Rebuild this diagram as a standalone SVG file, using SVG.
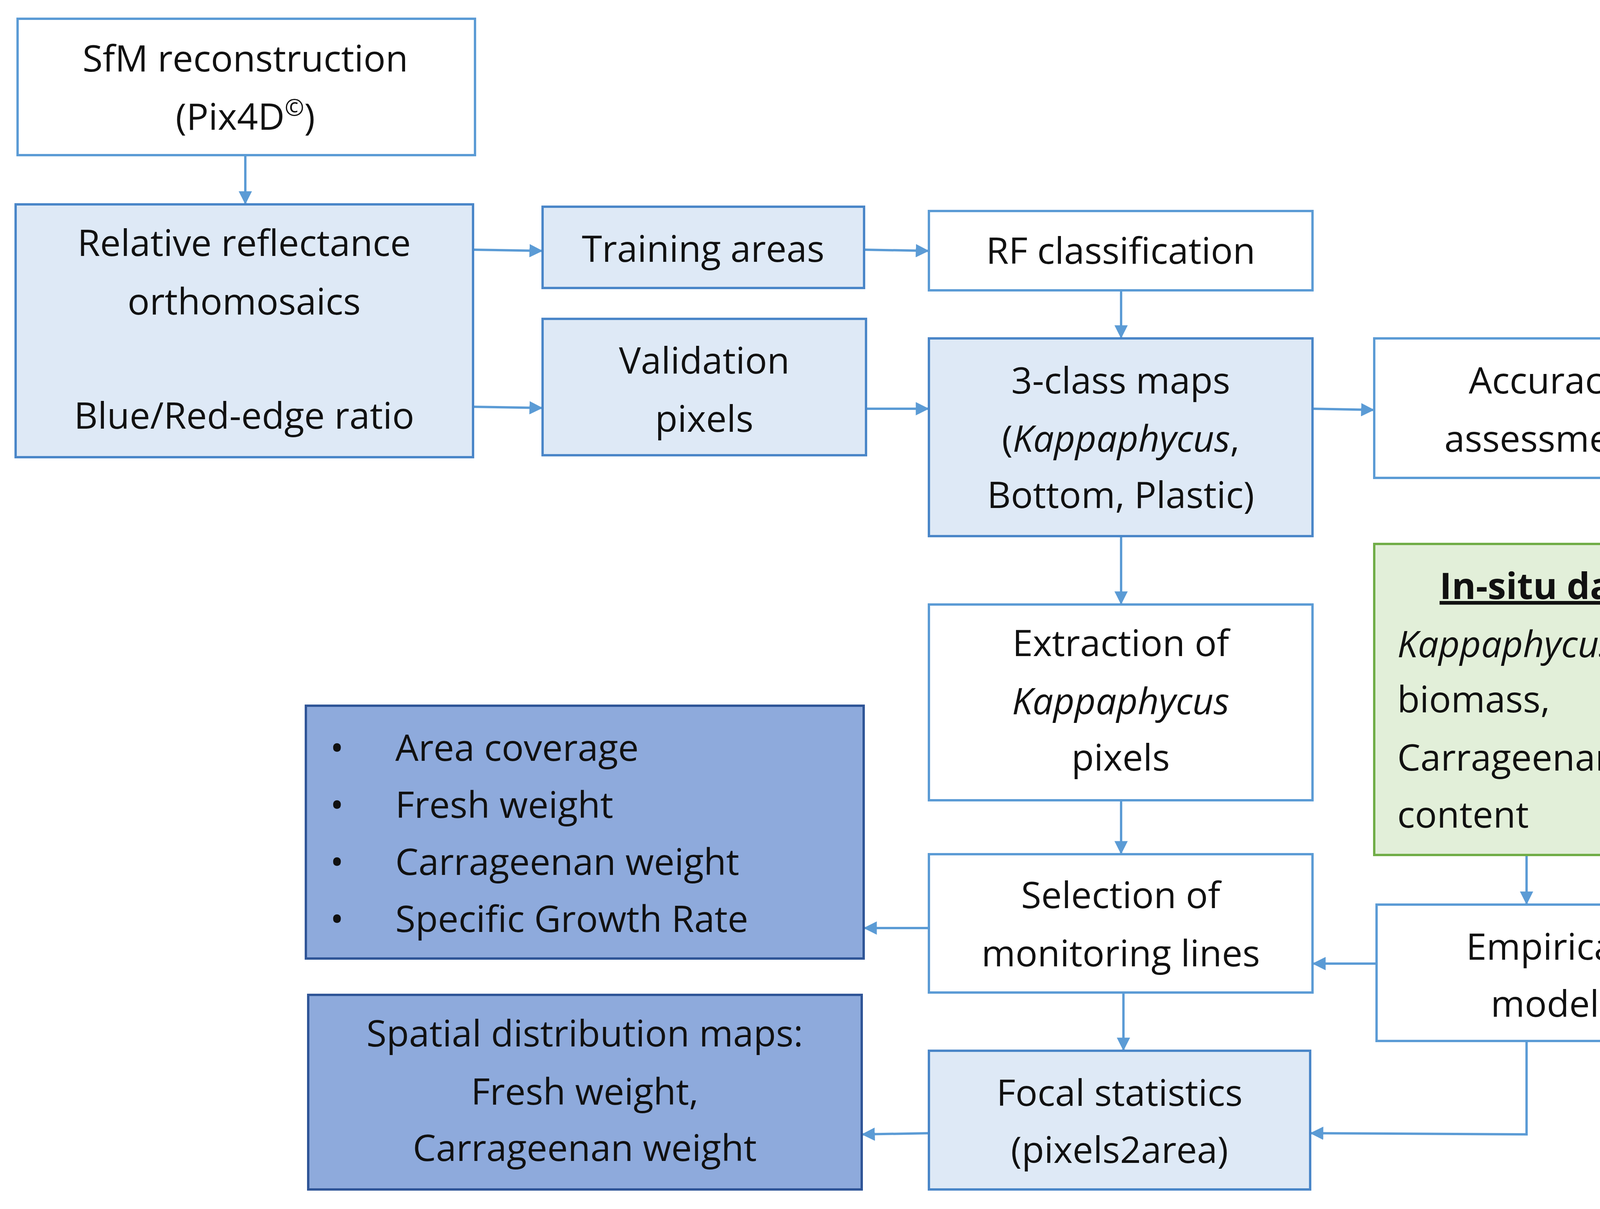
<svg xmlns="http://www.w3.org/2000/svg" width="4434" height="3094" viewBox="0 0 4434 3094">
<defs>
<marker id="ah" viewBox="0 0 10 10" refX="9" refY="5" markerWidth="34" markerHeight="34" markerUnits="userSpaceOnUse" orient="auto">
<path d="M0,0 L10,5 L0,10 z" fill="#5b9bd5"/>
</marker>
<style>
rect{stroke-width:6}
.w{fill:#ffffff;stroke:#5b9bd5}
.l{fill:#dee9f6;stroke:#4a86c8}
.g{fill:#e2efd9;stroke:#70ad47}
.d{fill:#8eaadc;stroke:#2f5597}
text{font-family:"Open Sans","Liberation Sans",sans-serif;font-size:94px;fill:#111}
.c{text-anchor:middle}
.i{font-style:italic}
.cn line,.cn polyline{stroke:#5b9bd5;stroke-width:6;fill:none}
</style>
</defs>
<rect width="4434" height="3094" fill="#fff"/>
<g class="cn">
<line x1="628" y1="397" x2="628" y2="520" marker-end="url(#ah)"/>
<line x1="1211" y1="639" x2="1386" y2="642" marker-end="url(#ah)"/>
<line x1="1211" y1="1041" x2="1386" y2="1044" marker-end="url(#ah)"/>
<line x1="2212" y1="639" x2="2375" y2="642" marker-end="url(#ah)"/>
<line x1="2217" y1="1046" x2="2375" y2="1046" marker-end="url(#ah)"/>
<line x1="2870" y1="743" x2="2870" y2="863" marker-end="url(#ah)"/>
<line x1="3360" y1="1046" x2="3515" y2="1049" marker-end="url(#ah)"/>
<line x1="2870" y1="1372" x2="2870" y2="1544" marker-end="url(#ah)"/>
<line x1="2870" y1="2048" x2="2870" y2="2183" marker-end="url(#ah)"/>
<line x1="3908" y1="2188" x2="3908" y2="2312" marker-end="url(#ah)"/>
<line x1="3524" y1="2466" x2="3363" y2="2466" marker-end="url(#ah)"/>
<line x1="2378" y1="2375" x2="2214" y2="2375" marker-end="url(#ah)"/>
<line x1="2876" y1="2540" x2="2876" y2="2686" marker-end="url(#ah)"/>
<polyline points="3908,2664 3908,2903 3357,2900" marker-end="url(#ah)"/>
<line x1="2378" y1="2900" x2="2209" y2="2903" marker-end="url(#ah)"/>
</g>
<g id="sfm"><rect class="w" x="45" y="48" width="1171" height="349"/>
<text class="c" x="628" y="183">SfM reconstruction</text>
<text class="c" x="628" y="332">(Pix4D<tspan font-size="60" dy="-36">©</tspan><tspan dy="36">)</tspan></text></g>
<g id="rel"><rect class="l" x="40" y="523" width="1171" height="647"/>
<text class="c" x="625" y="655">Relative  reflectance</text>
<text class="c" x="625" y="805">orthomosaics</text>
<text class="c" x="625" y="1097">Blue/Red-edge  ratio</text></g>
<g id="train"><rect class="l" x="1389" y="529" width="823" height="208"/>
<text class="c" x="1800" y="670">Training areas</text></g>
<g id="valid"><rect class="l" x="1389" y="816" width="828" height="349"/>
<text class="c" x="1803" y="956">Validation</text>
<text class="c" x="1803" y="1105">pixels</text></g>
<g id="rf"><rect class="w" x="2378" y="540" width="982" height="203"/>
<text class="c" x="2869" y="675">RF classification</text></g>
<g id="maps"><rect class="l" x="2378" y="866" width="982" height="506"/>
<text class="c" x="2869" y="1007">3-class maps</text>
<text class="c" x="2869" y="1156">(<tspan class="i">Kappaphycus</tspan>,</text>
<text class="c" x="2869" y="1300">Bottom, Plastic)</text></g>
<g id="acc"><rect class="w" x="3518" y="866" width="874" height="357"/>
<text class="c" x="3955" y="1007">Accuracy</text>
<text class="c" x="3955" y="1156">assessment</text></g>
<g id="insitu"><rect class="g" x="3518" y="1392" width="874" height="796"/>
<text class="c" x="3955" y="1533" font-weight="bold" text-decoration="underline">In-situ  data</text>
<text class="i" x="3577" y="1682">Kappaphycus</text>
<text x="3577" y="1823">biomass,</text>
<text x="3577" y="1972">Carrageenan</text>
<text x="3577" y="2118">content</text></g>
<g id="extr"><rect class="w" x="2378" y="1547" width="982" height="501"/>
<text class="c" x="2869" y="1679">Extraction of</text>
<text class="c i" x="2869" y="1828">Kappaphycus</text>
<text class="c" x="2869" y="1972">pixels</text></g>
<g id="bullets"><rect class="d" x="783" y="1806" width="1428" height="647"/>
<text x="845" y="1947">•</text><text x="1012" y="1947">Area coverage</text>
<text x="845" y="2093">•</text><text x="1012" y="2093">Fresh weight</text>
<text x="845" y="2239">•</text><text x="1012" y="2239">Carrageenan  weight</text>
<text x="845" y="2385">•</text><text x="1012" y="2385">Specific Growth Rate</text></g>
<g id="sel"><rect class="w" x="2378" y="2186" width="982" height="354"/>
<text class="c" x="2869" y="2324">Selection of</text>
<text class="c" x="2869" y="2473">monitoring lines</text></g>
<g id="emp"><rect class="w" x="3524" y="2315" width="868" height="349"/>
<text class="c" x="3955" y="2456">Empirical</text>
<text class="c" x="3955" y="2602">model</text></g>
<g id="spatial"><rect class="d" x="789" y="2546" width="1417" height="498"/>
<text class="c" x="1497" y="2678">Spatial distribution maps:</text>
<text class="c" x="1497" y="2827">Fresh weight,</text>
<text class="c" x="1497" y="2971">Carrageenan  weight</text></g>
<g id="focal"><rect class="l" x="2378" y="2689" width="976" height="355"/>
<text class="c" x="2866" y="2830">Focal statistics</text>
<text class="c" x="2866" y="2976">(pixels2area)</text></g>
</svg>
